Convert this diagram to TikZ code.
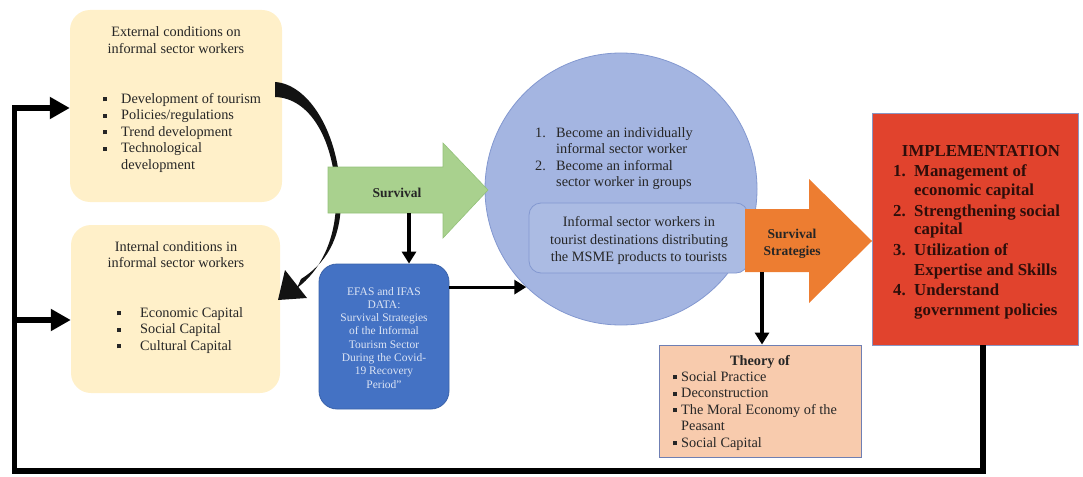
\documentclass[tikz,border=0pt]{standalone}
\usepackage{fontspec}
\setmainfont{Liberation Serif}
\usetikzlibrary{arrows.meta}

\definecolor{ink}{HTML}{262626}
\definecolor{cream}{HTML}{FFF0C9}
\definecolor{leaf}{HTML}{A9D18E}
\definecolor{leafline}{HTML}{93C17A}
\definecolor{efas}{HTML}{4472C4}
\definecolor{efasline}{HTML}{3A62AA}
\definecolor{efastext}{HTML}{DCE4F4}
\definecolor{sky}{HTML}{A4B5E1}
\definecolor{skyline}{HTML}{8398D0}
\definecolor{tang}{HTML}{ED7D31}
\definecolor{brick}{HTML}{E1432D}
\definecolor{brickline}{HTML}{8A96C4}
\definecolor{brickink}{HTML}{2E0E0A}
\definecolor{peach}{HTML}{F8CBAD}
\definecolor{peachline}{HTML}{6F7FB3}

% small square bullet
\newcommand\sqbul{\rule[1.6pt]{4.2pt}{4.2pt}}

\begin{document}
\begin{tikzpicture}[x=1pt,y=-1pt,
  body/.style={inner sep=0pt,text=ink,font=\fontsize{14.3}{16.5}\selectfont},
  lt/.style={body,anchor=base west},
  ct/.style={body,anchor=base},
  panel/.style={fill=cream,draw=none,rounded corners=20pt,inner sep=0pt},
  conn/.style={draw=black,line width=3.2pt,-{Triangle[length=12pt,width=14pt]}},
  loopline/.style={draw=black,line width=5.5pt,line join=miter,-{Triangle[length=20pt,width=21pt]}},
  redtxt/.style={inner sep=0pt,text=brickink,font=\fontsize{16.8}{19}\selectfont\bfseries},
  efastxt/.style={inner sep=0pt,text=efastext,font=\fontsize{11.5}{13.3}\selectfont,anchor=base},
  arrowtxt/.style={inner sep=0pt,text=ink,font=\fontsize{13.5}{17}\selectfont\bfseries,anchor=base},
]
\useasboundingbox (0,0) rectangle (1083,476);

% condition panels
\node[panel,minimum width=212pt,minimum height=192pt] (ext) at (176,106) {};
\node[panel,minimum width=209pt,minimum height=168pt] (int) at (175.5,309) {};

% central circle and the inner box
\node[circle,fill=sky,draw=skyline,line width=0.8pt,minimum size=272pt,inner sep=0pt] (hub) at (621,189) {};
\node[rectangle,rounded corners=12pt,fill=sky!92!white,draw=skyline,line width=0.8pt,
      minimum width=219pt,minimum height=70pt,inner sep=0pt] (dist) at (638.5,238) {};

% curved arrow from external to internal conditions
\fill[black!93] (275,82) .. controls (308,84) and (340,132) .. (341,200)
   .. controls (341,240) and (325,264) .. (301,279)
   -- (297,288) .. controls (320,271) and (336,240) .. (336,200)
   .. controls (335,140) and (310,98) .. (275,97) -- cycle;
\fill[black!93] (285,270) -- (278,300) -- (307,298) -- cycle;

% green "Survival" arrow
\filldraw[fill=leaf,draw=leafline,line width=0.6pt]
  (328,167) -- (443,167) -- (443,143) -- (488,190) -- (443,238) -- (443,213) -- (328,213) -- cycle;
\coordinate (survfoot) at (409,213);
\node[arrowtxt] (survlabel) at (397,197.5) {Survival};

% EFAS / IFAS data box
\node[rectangle,rounded corners=18pt,fill=efas,draw=efasline,line width=0.8pt,
      minimum width=130pt,minimum height=145pt,inner sep=0pt] (efasbox) at (384,336.5) {};

% orange "Survival Strategies" arrow
\fill[tang] (745,209) -- (809,209) -- (809,179) -- (872,241) -- (809,303) -- (809,272) -- (745,272) -- cycle;
\coordinate (stratfoot) at (762,272);
\node[arrowtxt] (strat1) at (792,238.5) {Survival};
\node[arrowtxt] (strat2) at (792,255.5) {Strategies};

% implementation box
\node[rectangle,fill=brick,draw=brickline,line width=0.8pt,
      minimum width=206pt,minimum height=232pt,inner sep=0pt] (impl) at (975,229) {};

% theory box
\node[rectangle,fill=peach,draw=peachline,line width=0.9pt,
      minimum width=202pt,minimum height=112pt,inner sep=0pt] (theory) at (760,401) {};

% external conditions text
\node[ct] (ext-t1) at (176,37) {External conditions on};
\node[ct] (ext-t2) at (176,54) {informal sector workers};
\node[lt] (ext-b1) at (103,103) {\sqbul};
\node[lt] (ext-i1) at (121,103) {Development of tourism};
\node[lt] (ext-b2) at (103,119.5) {\sqbul};
\node[lt] (ext-i2) at (121,119.5) {Policies/regulations};
\node[lt] (ext-b3) at (103,136) {\sqbul};
\node[lt] (ext-i3) at (121,136) {Trend development};
\node[lt] (ext-b4) at (103,152.5) {\sqbul};
\node[lt] (ext-i4) at (121,152.5) {Technological};
\node[lt] (ext-i4b) at (121,169) {development};

% internal conditions text
\node[ct] (int-t1) at (176,251) {Internal conditions in};
\node[ct] (int-t2) at (176,267.5) {informal sector workers};
\node[lt] (int-b1) at (117,317) {\sqbul};
\node[lt] (int-i1) at (140,317) {Economic Capital};
\node[lt] (int-b2) at (117,333.5) {\sqbul};
\node[lt] (int-i2) at (140,333.5) {Social Capital};
\node[lt] (int-b3) at (117,350) {\sqbul};
\node[lt] (int-i3) at (140,350) {Cultural Capital};

% circle text
\node[lt] (hub-n1) at (535,137) {1.};
\node[lt] (hub-i1) at (556,137) {Become an individually};
\node[lt] (hub-i1b) at (556,153.5) {informal sector worker};
\node[lt] (hub-n2) at (535,170) {2.};
\node[lt] (hub-i2) at (556,170) {Become an informal};
\node[lt] (hub-i2b) at (556,186.5) {sector worker in groups};

\node[ct] (dist-1) at (639,226.5) {Informal sector workers in};
\node[ct] (dist-2) at (639,244) {tourist destinations distributing};
\node[ct] (dist-3) at (639,261.5) {the MSME products to tourists};

% EFAS text
\node[efastxt] (efas-1) at (384,295) {EFAS and IFAS};
\node[efastxt] (efas-2) at (384,308.3) {DATA:};
\node[efastxt] (efas-3) at (384,321.6) {Survival Strategies};
\node[efastxt] (efas-4) at (384,334.9) {of the Informal};
\node[efastxt] (efas-5) at (384,348.2) {Tourism Sector};
\node[efastxt] (efas-6) at (384,361.5) {During the Covid-};
\node[efastxt] (efas-7) at (384,374.8) {19 Recovery};
\node[efastxt] (efas-8) at (384,388.1) {Period”};

% implementation text
\node[redtxt,anchor=base] (impl-t) at (981,156.5) {IMPLEMENTATION};
\node[redtxt,anchor=base west] (impl-n1) at (893,176) {1.};
\node[redtxt,anchor=base west] (impl-i1) at (914,176) {Management of};
\node[redtxt,anchor=base west] (impl-i1b) at (914,195) {economic capital};
\node[redtxt,anchor=base west] (impl-n2) at (893,216) {2.};
\node[redtxt,anchor=base west] (impl-i2) at (914,216) {Strengthening social};
\node[redtxt,anchor=base west] (impl-i2b) at (914,234.5) {capital};
\node[redtxt,anchor=base west] (impl-n3) at (893,255.5) {3.};
\node[redtxt,anchor=base west] (impl-i3) at (914,255.5) {Utilization of};
\node[redtxt,anchor=base west] (impl-i3b) at (914,275) {Expertise and Skills};
\node[redtxt,anchor=base west] (impl-n4) at (893,295.5) {4.};
\node[redtxt,anchor=base west] (impl-i4) at (914,295.5) {Understand};
\node[redtxt,anchor=base west] (impl-i4b) at (914,315) {government policies};

% theory text
\node[ct,font=\fontsize{14.3}{16.5}\selectfont\bfseries] (th-t) at (760,365) {Theory of};
\node[lt] (th-b1) at (673,381) {\sqbul};
\node[lt] (th-i1) at (681,381) {Social Practice};
\node[lt] (th-b2) at (673,397.5) {\sqbul};
\node[lt] (th-i2) at (681,397.5) {Deconstruction};
\node[lt] (th-b3) at (673,414) {\sqbul};
\node[lt] (th-i3) at (681,414) {The Moral Economy of the};
\node[lt] (th-i3b) at (681,430.5) {Peasant};
\node[lt] (th-b4) at (673,447) {\sqbul};
\node[lt] (th-i4) at (681,447) {Social Capital};

% connectors
\draw[conn] (survfoot) -- (survfoot |- efasbox.north);
\draw[conn] (efasbox.east |- hub.226.7) -- (hub.226.7);
\draw[conn] (stratfoot) -- (stratfoot |- theory.north);

% feedback loop back to both condition panels
\coordinate (loopstart) at ([xshift=8pt]impl.south);
\coordinate (loopcorner) at (14.5,471);
\coordinate (looptop) at (14.5,108);
\coordinate (branch) at (14.5,320);
\draw[loopline] (loopstart) |- (loopcorner) -- (looptop) -- (looptop -| ext.west);
\draw[loopline] (branch) -- (branch -| int.west);
\end{tikzpicture}
\end{document}
